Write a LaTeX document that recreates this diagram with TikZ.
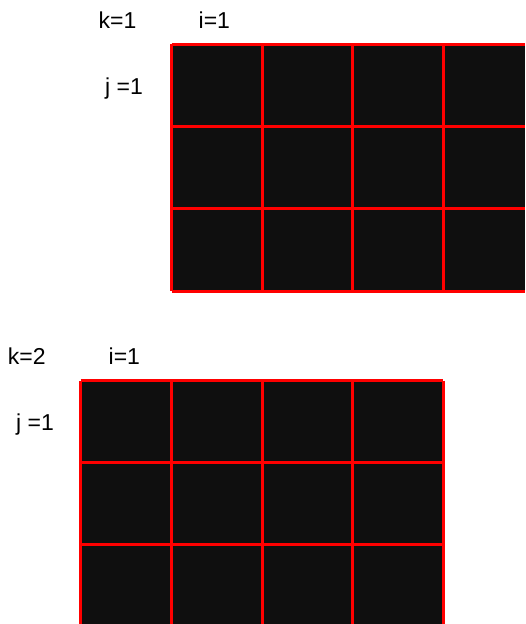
\documentclass[tikz,border=0pt]{standalone}
\usepackage{fontspec}
\setmainfont{Liberation Sans}
\usepackage{xcolor}
\definecolor{cellfill}{HTML}{0F0F0F}

\begin{document}
\begin{tikzpicture}[x=1pt, y=-1pt,
		gridline/.style={draw=red, line width=3pt},
		idxtext/.style={anchor=base west, inner sep=0pt, font=\fontsize{23}{27}\selectfont}]
		\useasboundingbox (0,0) rectangle (525,624);
		% k=1 block
		\fill[cellfill] (171.5,44) rectangle (525,291.2);
		\draw[gridline] (171.5,44) -- (525,44);
		\draw[gridline] (171.5,126.2) -- (525,126.2);
		\draw[gridline] (171.5,208.5) -- (525,208.5);
		\draw[gridline] (171.5,291.2) -- (525,291.2);
		\draw[gridline] (171.5,44) -- (171.5,291.2);
		\draw[gridline] (262.2,44) -- (262.2,291.2);
		\draw[gridline] (352.9,44) -- (352.9,291.2);
		\draw[gridline] (443.6,44) -- (443.6,291.2);
		\node[idxtext] (k1) at (98.5,28.3) {k=1};
		\node[idxtext] (i1) at (198.5,28.3) {i=1};
		\node[idxtext] (j1) at (105,94.3) {j =1};
		% k=2 block
		\fill[cellfill] (80.7,380.5) rectangle (443.4,624);
		\draw[gridline] (80.7,380.5) -- (443.4,380.5);
		\draw[gridline] (80.7,462.4) -- (443.4,462.4);
		\draw[gridline] (80.7,544.6) -- (443.4,544.6);
		\draw[gridline] (80.7,380.5) -- (80.7,624);
		\draw[gridline] (171.3,380.5) -- (171.3,624);
		\draw[gridline] (262,380.5) -- (262,624);
		\draw[gridline] (352.7,380.5) -- (352.7,624);
		\draw[gridline] (443.4,380.5) -- (443.4,624);
		\node[idxtext] (k2) at (7.8,364.3) {k=2};
		\node[idxtext] (i2) at (108.5,364.3) {i=1};
		\node[idxtext] (j2) at (16,430) {j =1};
	\end{tikzpicture}
\end{document}
